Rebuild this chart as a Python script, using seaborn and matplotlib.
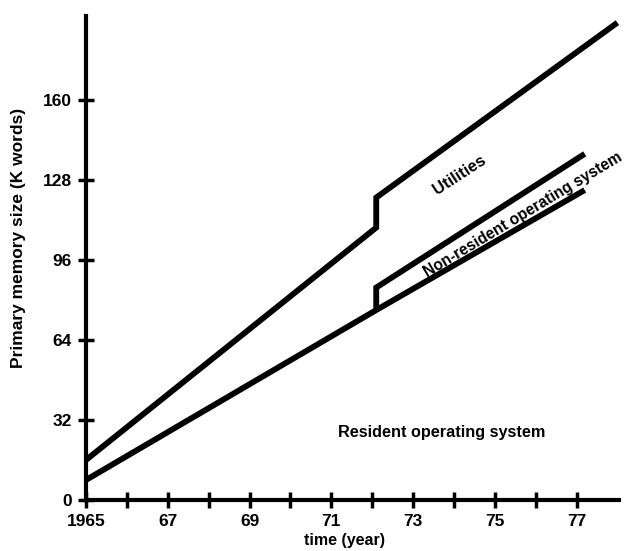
import matplotlib
matplotlib.use("Agg")
import matplotlib.pyplot as plt
import seaborn as sns
import pandas as pd

# Data
util_years = [1965, 1972.1, 1972.1, 1978.0]
util_vals = [16, 109, 121, 191]
nonres_years = [1972.1, 1972.1, 1977.2]
nonres_vals = [76, 85, 138.5]
res_years = [1965, 1972.1, 1977.2]
res_vals = [8, 76, 124]

xtick_years = list(range(1965, 1978))
xtick_labels = ["1965", "", "67", "", "69", "", "71", "", "73", "", "75", "", "77"]
ytick_vals = [0, 32, 64, 96, 128, 160]

sns.set_theme(style="white")
plt.rcParams['font.family'] = ['Liberation Sans', 'DejaVu Sans']
plt.rcParams['font.weight'] = 'bold'

fig = plt.figure(figsize=(6.3, 5.51), dpi=100)
ax = fig.add_axes([0.1365, 0.0926, 0.863, 0.889])

for yrs, vals in [(util_years, util_vals), (nonres_years, nonres_vals), (res_years, res_vals)]:
    df = pd.DataFrame({"year": yrs, "val": vals})
    sns.lineplot(data=df, x="year", y="val", sort=False, estimator=None, color="black",
                 linewidth=4.2, ax=ax, solid_capstyle="butt", solid_joinstyle="miter")

ax.set_xlim(1965, 1978.3)
ax.set_ylim(0, 196)
for s in ["top", "right"]:
    ax.spines[s].set_visible(False)
for s in ["left", "bottom"]:
    ax.spines[s].set_linewidth(3)
    ax.spines[s].set_color("black")
ax.spines["left"].set_bounds(0, 193.5)
ax.spines["bottom"].set_bounds(1965, 1978.05)

ax.set_xticks(xtick_years)
ax.set_xticklabels(xtick_labels)
ax.set_yticks(ytick_vals)
ax.set_yticklabels([str(v) for v in ytick_vals])
ax.tick_params(axis="both", direction="inout", length=12, width=2.5, color="black",
               labelsize=12.5, labelcolor="black", bottom=True, left=True, pad=4)
for lab in ax.get_xticklabels() + ax.get_yticklabels():
    lab.set_fontweight("bold")

ax.set_xlabel("time (year)", fontsize=11.5, fontweight="bold", color="black")
ax.set_ylabel("Primary memory size (K words)", fontsize=12.5, fontweight="bold", color="black")
ax.xaxis.set_label_coords(0.476, -0.068)
ax.yaxis.set_label_coords(-0.11, 0.535)

ax.text(1974.15, 130, "Utilities", rotation=33, ha="center", va="center",
        fontsize=12, fontweight="bold", color="black", rotation_mode="anchor")
ax.text(1975.7, 114.2, "Non-resident operating system", rotation=31, ha="center", va="center",
        fontsize=11.2, fontweight="bold", color="black", rotation_mode="anchor")
ax.text(1973.7, 27, "Resident operating system", ha="center", va="center",
        fontsize=11.7, fontweight="bold", color="black")

fig.savefig("out.png", dpi=100)
